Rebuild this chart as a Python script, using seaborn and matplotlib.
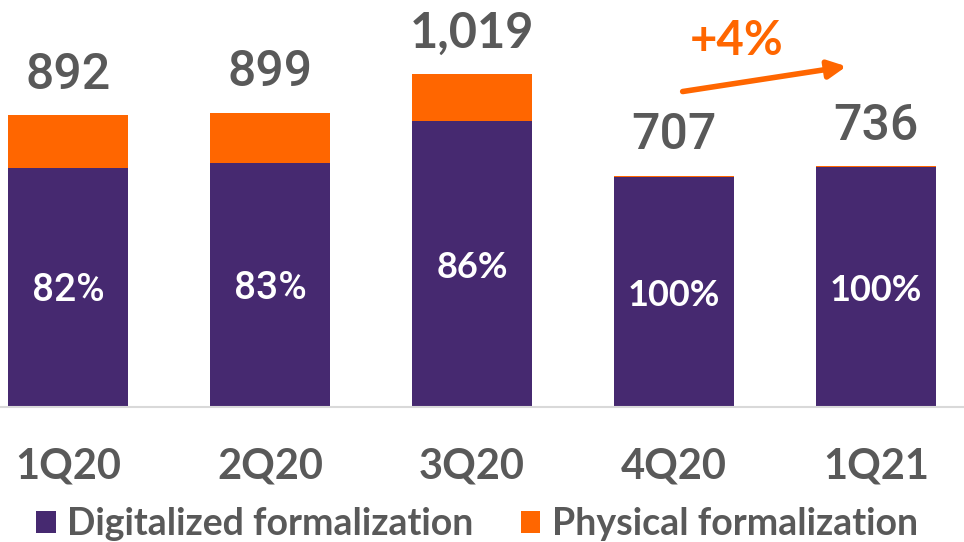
import matplotlib
matplotlib.use("Agg")
import matplotlib.pyplot as plt
from matplotlib.patches import Patch
import seaborn as sns
import pandas as pd

# Quarterly formalizations (thousands) and the digital part of each quarter
quarters = ["1Q20", "2Q20", "3Q20", "4Q20", "1Q21"]
totals = [892, 899, 1019, 707, 736]
digital = [731, 746, 876, 704, 733]
growth_label = "+4%"
series_names = ["Digitalized formalization", "Physical formalization"]

PURPLE = "#462970"
ORANGE = "#FF6600"
GRAY = "#595959"

sns.set_theme(style="white")
plt.rcParams["font.family"] = ["Lato", "DejaVu Sans"]

df = pd.DataFrame({"quarter": quarters, "total": totals, "digital": digital})

fig = plt.figure(figsize=(9.64, 5.42), dpi=100)
ax = fig.add_axes([0, 135 / 542, 1, 407 / 542])

bar_w = 0.594
# total bar in orange, digital part drawn over it in purple
sns.barplot(data=df, x="quarter", y="total", color=ORANGE, saturation=1,
            width=bar_w, ax=ax, linewidth=0)
sns.barplot(data=df, x="quarter", y="digital", color=PURPLE, saturation=1,
            width=bar_w, ax=ax, linewidth=0)

ax.set_xlim(-0.337, 4.436)
ax.set_ylim(0, 1245)
ax.set_xlabel("")
ax.set_ylabel("")
ax.set_yticks([])
for s in ["top", "right", "left"]:
    ax.spines[s].set_visible(False)
ax.spines["bottom"].set_color("#d9d9d9")
ax.spines["bottom"].set_linewidth(1.5)
ax.tick_params(axis="x", length=0, pad=29, labelsize=30, labelcolor=GRAY)
for lbl in ax.get_xticklabels():
    lbl.set_fontweight("bold")

for i, (t, d) in enumerate(zip(totals, digital)):
    bold_total = t >= 1000
    ax.text(i, t + 125, f"{t:,}", ha="center", va="center",
            fontsize=35 if bold_total else 36, color=GRAY,
            family=["Lato"] if bold_total else ["Roboto"],
            fontweight="bold" if bold_total else "medium")
    share = round(d / t * 100)
    ax.text(i, d / 2 - 10, f"{share}%", ha="center", va="center",
            fontsize=26 if share >= 86 else 28, color="white",
            family=["Lato"] if share >= 86 else ["Roboto"],
            fontweight="bold" if share >= 86 else "medium")

# growth arrow between the last two quarters
ax.annotate("", xy=(3.854, 1042), xytext=(3.043, 965),
            arrowprops=dict(arrowstyle="-|>,head_length=0.9,head_width=0.45",
                            color=ORANGE, lw=4, shrinkA=0, shrinkB=0))
ax.text(3.31, 1119, growth_label, ha="center", va="center", fontsize=34,
        color=ORANGE, fontweight="bold")

handles = [Patch(facecolor=PURPLE, edgecolor="none"),
           Patch(facecolor=ORANGE, edgecolor="none")]
leg = fig.legend(handles, series_names, loc="center",
                 bbox_to_anchor=(477 / 964, 1 - 524 / 542), ncol=2,
                 frameon=False, fontsize=27, handlelength=0.53,
                 handleheight=0.53, handletextpad=0.3, columnspacing=1.25,
                 borderaxespad=0, borderpad=0)
for txt in leg.get_texts():
    txt.set_color(GRAY)
    txt.set_fontweight("bold")

fig.savefig("out.png", dpi=100)
